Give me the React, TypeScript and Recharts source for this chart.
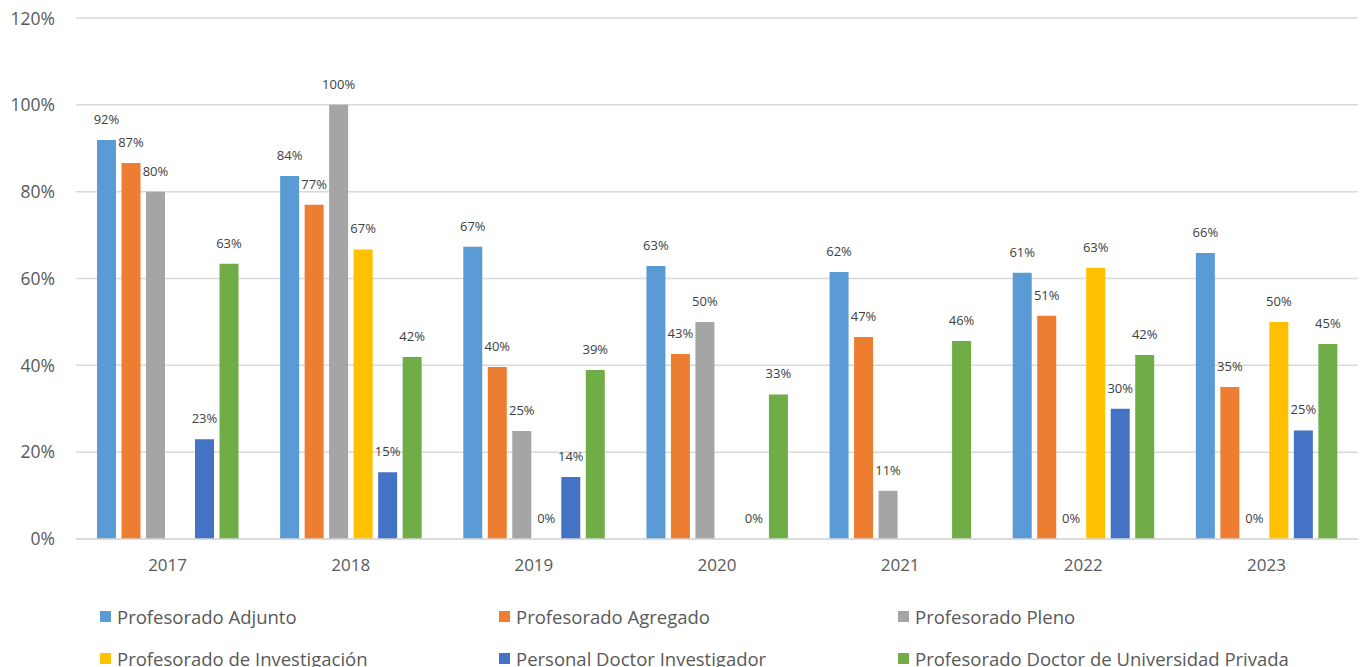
import { BarChart, Bar, XAxis, YAxis, CartesianGrid, Legend, LabelList } from "recharts";

const years = ["2017", "2018", "2019", "2020", "2021", "2022", "2023"];

const adjunto = [91.9, 83.6, 67.3, 62.9, 61.5, 61.3, 65.9];
const agregado = [86.6, 77.0, 39.6, 42.6, 46.5, 51.4, 35.0];
const pleno = [80.0, 100, 24.9, 50.0, 11.1, 0, 0];
const investigacion = [null, 66.7, 0, null, null, 62.5, 50.0];
const doctorInvestigador = [23.0, 15.4, 14.3, 0, null, 30.0, 25.0];
const privada = [63.4, 41.9, 38.9, 33.3, 45.6, 42.4, 44.9];

const yTicks = [0, 20, 40, 60, 80, 100, 120];

const series = [
  { key: "adjunto", name: "Profesorado Adjunto", color: "#5B9BD5", values: adjunto },
  { key: "agregado", name: "Profesorado Agregado", color: "#ED7D31", values: agregado },
  { key: "pleno", name: "Profesorado Pleno", color: "#A5A5A5", values: pleno },
  { key: "investigacion", name: "Profesorado de Investigación", color: "#FFC000", values: investigacion },
  { key: "doctor", name: "Personal Doctor Investigador", color: "#4472C4", values: doctorInvestigador },
  { key: "privada", name: "Profesorado Doctor de Universidad Privada", color: "#70AD47", values: privada },
];

const data = years.map((year, i) => {
  const row: Record<string, string | number | null> = { year };
  series.forEach((s) => {
    row[s.key] = s.values[i];
  });
  return row;
});

const pct = (v: any) => (v == null ? "" : `${Math.round(v)}%`);

// legend in the same order as the series, three per row
function LegendGrid() {
  return (
    <div
      style={{
        display: "grid",
        gridTemplateColumns: "399px 399px 399px",
        paddingLeft: 92,
        fontSize: 18.5,
        color: "#595959",
      }}
    >
      {series.map((s) => (
        <div key={s.key} style={{ display: "flex", alignItems: "center", height: 42 }}>
          <span style={{ width: 11, height: 11, background: s.color, marginRight: 6, display: "inline-block" }} />
          <span>{s.name}</span>
        </div>
      ))}
    </div>
  );
}

export default function App() {
  return (
    <div style={{ fontFamily: "'Open Sans', sans-serif" }}>
      <style>{"body{overflow:hidden}"}</style>
      <BarChart
        width={1359}
        height={680}
        data={data}
        margin={{ top: 10, right: 9, left: 0, bottom: 119 }}
        barSize={19}
        barGap={5.5}
      >
        <CartesianGrid vertical={false} stroke="#d9d9d9" strokeWidth={1.5} />
        <XAxis
          dataKey="year"
          axisLine={{ stroke: "#d9d9d9", strokeWidth: 1.5 }}
          tickLine={false}
          tickMargin={14}
          tick={{ fill: "#595959", fontSize: 17 }}
        />
        <YAxis
          domain={[0, 120]}
          ticks={yTicks}
          width={68}
          axisLine={false}
          tickLine={false}
          tickMargin={15}
          tickFormatter={(v) => `${v}%`}
          tick={{ fill: "#595959", fontSize: 17.5 }}
        />
        <Legend
          layout="horizontal"
          verticalAlign="middle"
          align="center"
          wrapperStyle={{ top: 587, left: 0, width: 1359 }}
          content={<LegendGrid />}
        />
        {series.map((s) => (
          <Bar
            key={s.key}
            dataKey={s.key}
            name={s.name}
            fill={s.color}
            minPointSize={0.01}
            isAnimationActive={false}
          >
            <LabelList
              dataKey={s.key}
              position="top"
              offset={16}
              formatter={pct}
              style={{ fill: "#404040", fontSize: 13 }}
            />
          </Bar>
        ))}
      </BarChart>
    </div>
  );
}
